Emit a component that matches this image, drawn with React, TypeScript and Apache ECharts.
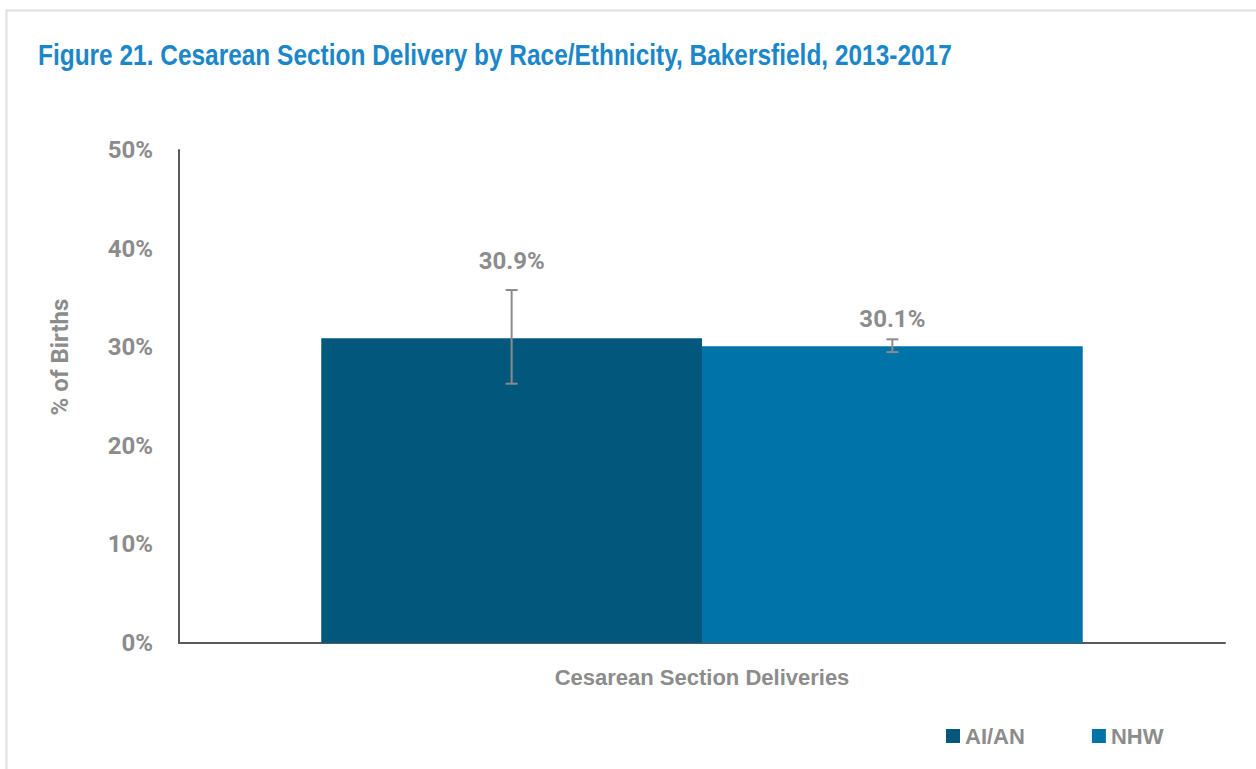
import React, { useEffect, useRef } from "react";
import * as echarts from "echarts";

const titleText = "Figure 21. Cesarean Section Delivery by Race/Ethnicity, Bakersfield, 2013-2017";
const categories = ["Cesarean Section Deliveries"];
const seriesNames = ["AI/AN", "NHW"];
const values = [30.9, 30.1];
const lowerCI = [26.3, 29.5];
const upperCI = [35.8, 30.8];
const yTicks = [0, 10, 20, 30, 40, 50];

const colors = ["#02587C", "#0073A8"];
const labelOffsets = [-60, -10];
const GRAY = "#8C8C8C";
const SANS = "'Liberation Sans', Arial, sans-serif";
const BAR_PCT = 0.364;

export default function App() {
  const ref = useRef<HTMLDivElement>(null);
  useEffect(() => {
    if (!ref.current) return;
    const chart = echarts.init(ref.current, undefined, { renderer: "svg" });
    const barSeries = seriesNames.map((name, i) => ({
      name,
      type: "bar",
      barWidth: BAR_PCT * 100 + "%",
      barGap: "0%",
      itemStyle: { color: colors[i] },
      label: {
        show: true,
        position: "top",
        offset: [0, labelOffsets[i]],
        formatter: (p: any) => p.value.toFixed(1) + "%",
        color: GRAY,
        fontFamily: "Roboto",
        fontWeight: "bold",
        fontSize: 24,
      },
      data: [values[i]],
    }));
    const errSeries = {
      type: "custom",
      name: "err",
      silent: true,
      z: 10,
      data: seriesNames.map((_, i) => [0, lowerCI[i], upperCI[i], i]),
      encode: { x: 0, y: [1, 2] },
      renderItem: (params: any, api: any) => {
        const cat = api.value(0);
        const idx = api.value(3);
        const lo = api.coord([cat, api.value(1)]);
        const hi = api.coord([cat, api.value(2)]);
        const band = api.size([1, 0])[0];
        const bw = band * BAR_PCT;
        const x = lo[0] + (idx === 0 ? -bw / 2 : bw / 2);
        const cap = 6;
        const style = { stroke: GRAY, lineWidth: 2 };
        return {
          type: "group",
          children: [
            { type: "line", shape: { x1: x, y1: hi[1], x2: x, y2: lo[1] }, style },
            { type: "line", shape: { x1: x - cap, y1: hi[1], x2: x + cap, y2: hi[1] }, style },
            { type: "line", shape: { x1: x - cap, y1: lo[1], x2: x + cap, y2: lo[1] }, style },
          ],
        };
      },
    };
    chart.setOption({
      animation: false,
      backgroundColor: "#FFFFFF",
      legend: {
        data: seriesNames,
        left: 941,
        top: 720,
        itemWidth: 14,
        itemHeight: 14,
        itemGap: 67,
        icon: "rect",
        textStyle: {
          color: GRAY,
          fontFamily: SANS,
          fontWeight: "bold",
          fontSize: 22,
        },
      },
      grid: { left: 179, right: 31, top: 150, bottom: 126 },
      xAxis: {
        type: "category",
        data: categories,
        axisLine: { lineStyle: { color: "#595959", width: 2 } },
        axisTick: { show: false },
        axisLabel: {
          color: GRAY,
          fontFamily: SANS,
          fontWeight: "bold",
          fontSize: 22,
          margin: 23,
        },
      },
      yAxis: {
        type: "value",
        min: 0,
        max: 50,
        interval: 10,
        axisLine: { show: true, lineStyle: { color: "#595959", width: 2 } },
        axisTick: { show: false },
        splitLine: { show: false },
        axisLabel: {
          color: GRAY,
          fontFamily: "Roboto",
          fontWeight: "bold",
          fontSize: 24,
          margin: 26,
          formatter: (v: number) => (yTicks.includes(v) ? v + "%" : ""),
        },
      },
      graphic: [
        {
          type: "rect",
          left: 4,
          top: 8,
          shape: { width: 1300, height: 800 },
          style: { fill: "none", stroke: "#E0E0E0", lineWidth: 2 },
          silent: true,
          z: -10,
        },
        {
          type: "text",
          x: 38,
          y: 55,
          scaleX: 0.843,
          style: {
            text: titleText,
            fill: "#1B87C9",
            font: "bold 29px 'Liberation Sans', Arial, sans-serif",
            align: "left",
            verticalAlign: "middle",
          },
        },
        {
          type: "text",
          x: 60,
          y: 357,
          rotation: Math.PI / 2,
          style: {
            text: "% of Births",
            fill: GRAY,
            font: "bold 24px Roboto",
            align: "center",
            verticalAlign: "middle",
          },
        },
      ],
      series: [...barSeries, errSeries],
    });
    return () => chart.dispose();
  }, []);
  return (
    <div
      ref={ref}
      style={{ position: "fixed", left: 0, top: 0, width: 1256, height: 769 }}
    />
  );
}
